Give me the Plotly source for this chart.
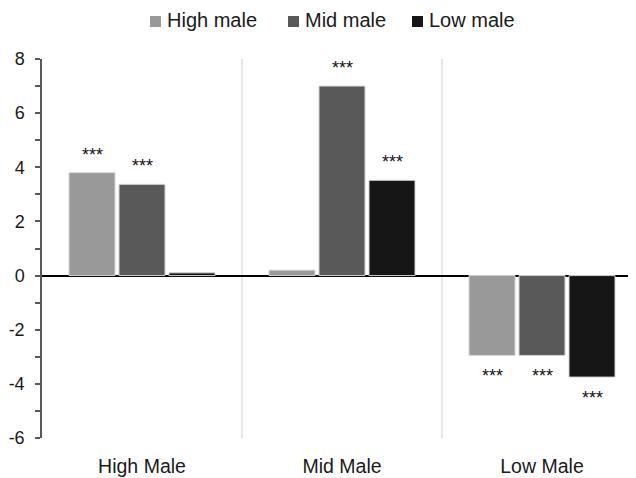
import plotly.graph_objects as go

categories = ["High Male", "Mid Male", "Low Male"]
series_names = ["High male", "Mid male", "Low male"]
high_vals = [3.8, 0.2, -2.95]
mid_vals = [3.37, 7.0, -2.95]
low_vals = [0.1, 3.52, -3.75]
colors = ["#999999", "#595959", "#161616"]
sig_high = ["***", "", "***"]
sig_mid = ["***", "***", "***"]
sig_low = ["", "***", "***"]
y_ticks = [-6, -4, -2, 0, 2, 4, 6, 8]

W, H = 628, 470
ML, MR, MT, MB = 34, 0, 51, 40
PW, PH = W - ML - MR, H - MT - MB


def px_to_paper_x(px):
    return (px - 8 - ML) / PW


def px_to_paper_y(py):
    return 1 + (MT - (py - 8)) / PH


fig = go.Figure()
all_vals = [high_vals, mid_vals, low_vals]
for name, vals, col in zip(series_names, all_vals, colors):
    fig.add_trace(go.Bar(x=categories, y=vals, name=name, showlegend=False,
                         marker=dict(color=col, line=dict(color="#d4d4d4", width=1))))

annots = []
shapes = []
offsets = [-50, 0, 50]
for s_idx, (vals, sigs) in enumerate(zip(all_vals, [sig_high, sig_mid, sig_low])):
    for c_idx, (v, s) in enumerate(zip(vals, sigs)):
        if not s:
            continue
        annots.append(dict(x=categories[c_idx], y=v, text=s, showarrow=False,
                           xshift=offsets[s_idx], yshift=18 if v > 0 else -21,
                           font=dict(size=18, color="#111111"), yanchor="middle"))

# custom legend (page pixel positions of square left edges)
legend_sq_x = [150, 288, 412]
for name, col, sx in zip(series_names, colors, legend_sq_x):
    shapes.append(dict(type="rect", xref="paper", yref="paper",
                       x0=px_to_paper_x(sx), x1=px_to_paper_x(sx + 11),
                       y0=px_to_paper_y(27), y1=px_to_paper_y(16),
                       fillcolor=col, line=dict(width=0)))
    annots.append(dict(xref="paper", yref="paper", x=px_to_paper_x(sx + 15),
                       y=px_to_paper_y(20), text=name, showarrow=False,
                       xanchor="left", yanchor="middle",
                       font=dict(size=20, color="#1a1a1a")))

for xd in [0.5, 1.5]:
    shapes.append(dict(type="line", xref="x", yref="paper", x0=xd, x1=xd, y0=0, y1=1,
                       line=dict(color="#dedede", width=1.5), layer="below"))

fig.update_layout(
    width=W, height=H,
    margin=dict(l=ML, r=MR, t=MT, b=MB, autoexpand=False),
    plot_bgcolor="white", paper_bgcolor="white",
    font=dict(family="Liberation Sans, Arial, sans-serif", size=18, color="#1a1a1a"),
    barmode="group", bargap=0.25, bargroupgap=0.08,
    showlegend=False,
    annotations=annots, shapes=shapes,
)
fig.update_xaxes(range=[-0.5, 2.47], showline=False, ticks="", showgrid=False,
                 tickfont=dict(size=19.5), ticklabelstandoff=14)
fig.update_yaxes(range=[-6, 8], tickvals=y_ticks, ticktext=[str(v) for v in y_ticks],
                 tickfont=dict(size=18), ticklabelstandoff=7,
                 showgrid=False, showline=True,
                 linecolor="#595959", linewidth=1.5, ticks="outside", ticklen=5,
                 tickcolor="#595959", tickwidth=1.5,
                 zeroline=True, zerolinecolor="#000000", zerolinewidth=1.5,
                 minor=dict(dtick=1, ticks="outside", ticklen=5, tickcolor="#595959", tickwidth=1.5))

fig.write_html("out.html")
